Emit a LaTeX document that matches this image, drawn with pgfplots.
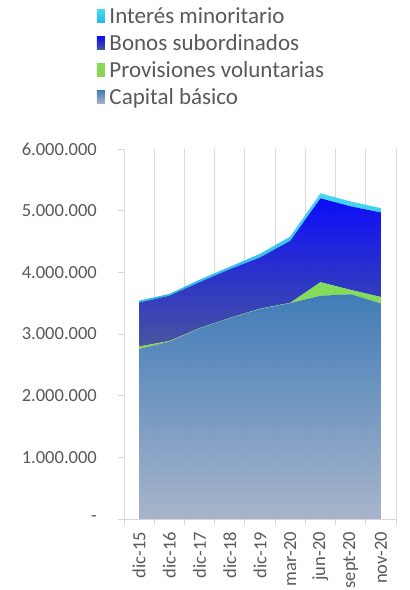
\documentclass[border=0pt]{standalone}
\usepackage{pgfplots}
\pgfplotsset{compat=1.18}
\usepackage{fontspec}
\setmainfont{Carlito}
\definecolor{txt}{HTML}{595959}
\definecolor{gridc}{HTML}{D9D9D9}
\definecolor{capT}{HTML}{3775B4}
\definecolor{capB}{HTML}{A3B1C8}
\definecolor{bonT}{HTML}{0000F8}
\definecolor{bonB}{HTML}{3E4D9A}
\definecolor{proT}{HTML}{7CDB52}
\definecolor{proB}{HTML}{86D04C}
\definecolor{minT}{HTML}{3AD6F2}
\definecolor{minB}{HTML}{1DB4E6}
\begin{document}
\begin{tikzpicture}
\begin{axis}[
  scale only axis, width=272pt, height=370pt,
  xmin=-0.5, xmax=8.5, ymin=0, ymax=6000000,
  axis lines=left, axis line style={-, draw=gridc, line width=0.8pt},
  xtick={0,1,2,3,4,5,6,7,8},
  xticklabels={dic-15,dic-16,dic-17,dic-18,dic-19,mar-20,jun-20,sept-20,nov-20},
  minor xtick={-0.5,0.5,1.5,2.5,3.5,4.5,5.5,6.5,7.5,8.5},
  xminorgrids=true, minor grid style={draw=gridc, line width=0.8pt},
  every major x tick/.append style={draw=none},
  xticklabel style={yshift=-7pt, rotate=90, anchor=east, inner sep=0pt},
  ytick={0,1000000,2000000,3000000,4000000,5000000,6000000},
  yticklabels={-,1.000.000,2.000.000,3.000.000,4.000.000,5.000.000,6.000.000},
  yticklabel style={anchor=east, inner sep=0pt, xshift=-21pt},
  tick align=outside, major tick length=6pt, minor tick length=6pt,
  tick style={draw=gridc, line width=0.8pt},
  tick label style={font=\fontsize{18.5}{20}\selectfont, text=txt},
  scaled y ticks=false,
  stack plots=y,
  reverse legend,
  legend cell align=left,
  legend style={at={(rel axis cs:-0.1,1.387)}, anchor=north west, draw=none, fill=none,
     font=\fontsize{23}{27}\selectfont, text=txt, inner sep=0pt, row sep=6.5pt,
     nodes={inner sep=1.5pt},
     /tikz/every odd column/.append style={column sep=3pt}},
  legend image code/.code={\path[#1] (0pt,-6.5pt) rectangle (8pt,6.5pt);},
]
\addplot[draw=none, top color=capT, bottom color=capB, fill opacity=0.95] coordinates {
 (0,2757000) (1,2875000) (2,3090000) (3,3255000) (4,3405000) (5,3500000) (6,3620000) (7,3645000) (8,3495000)} \closedcycle;
\addlegendentry{Capital básico}
\addplot[draw=none, top color=proT, bottom color=proB, fill opacity=0.95] coordinates {
 (0,40000) (1,12000) (2,6000) (3,6000) (4,6000) (5,6000) (6,220000) (7,70000) (8,105000)} \closedcycle;
\addlegendentry{Provisiones voluntarias}
\addplot[draw=none, top color=bonT, bottom color=bonB, fill opacity=0.95] coordinates {
 (0,713000) (1,733000) (2,744000) (3,789000) (4,829000) (5,1004000) (6,1360000) (7,1355000) (8,1370000)} \closedcycle;
\addlegendentry{Bonos subordinados}
\addplot[draw=none, top color=minT, bottom color=minB, fill opacity=0.95] coordinates {
 (0,30000) (1,30000) (2,40000) (3,40000) (4,60000) (5,70000) (6,80000) (7,80000) (8,70000)} \closedcycle;
\addlegendentry{Interés minoritario}
\end{axis}
\pgfresetboundingbox
\path[use as bounding box] ([xshift=-124pt,yshift=-71pt]current axis.south west) rectangle ([xshift=13pt,yshift=149pt]current axis.north east);
\end{tikzpicture}
\end{document}
